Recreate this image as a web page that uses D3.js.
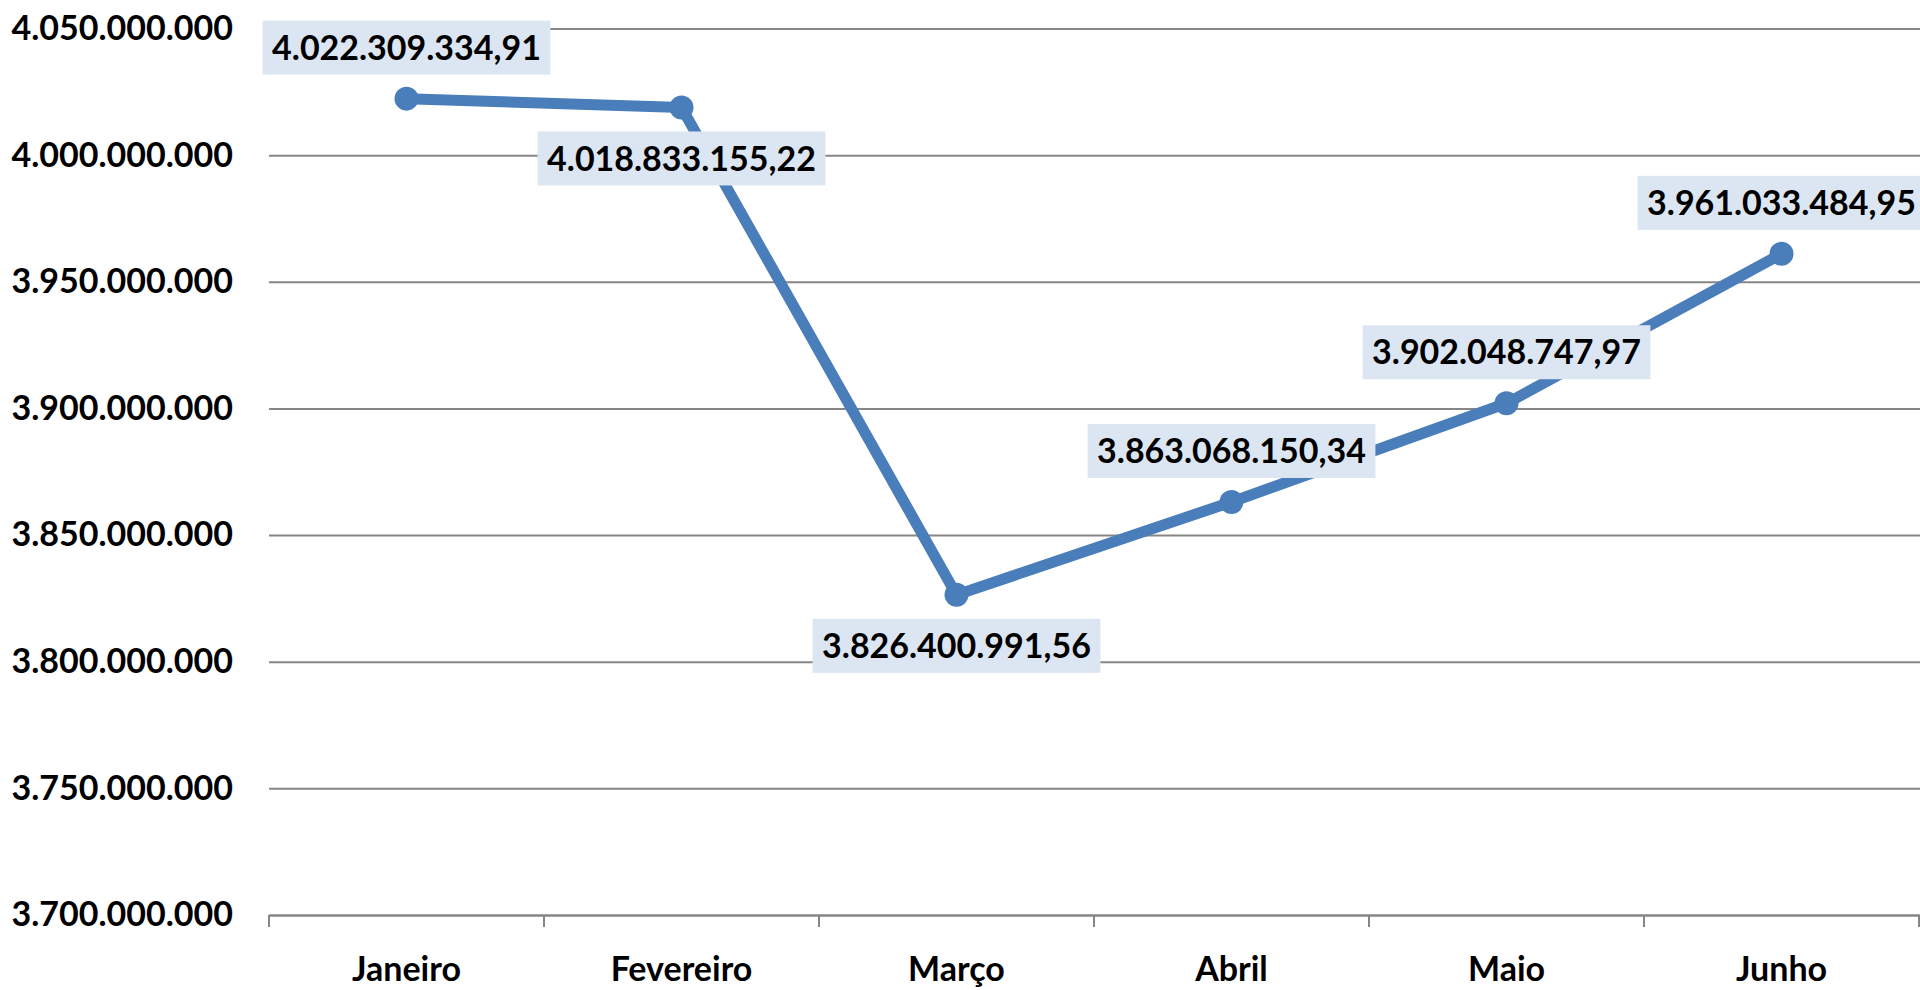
<!DOCTYPE html>
<html>
<head>
<meta charset="utf-8">
<script src="https://cdnjs.cloudflare.com/ajax/libs/d3/7.8.5/d3.min.js"></script>
<style>
  body { margin: 0; background: #fff; }
  svg text { font-family: Lato, "Open Sans", sans-serif; font-weight: bold; }
</style>
</head>
<body>
<div id="wrapper"></div>
<script>
const months = ["Janeiro", "Fevereiro", "Março", "Abril", "Maio", "Junho"];
const values = [4022309334.91, 4018833155.22, 3826400991.56, 3863068150.34, 3902048747.97, 3961033484.95];
const yTicks = [3700000000, 3750000000, 3800000000, 3850000000, 3900000000, 3950000000, 4000000000, 4050000000];
// where each data label sits relative to its point
const labelSide = ["above", "below", "below", "above", "above", "above"];

function buildPlot(){
    const dimension = {
        width: 1920,
        height: 990,
        margin: { left: 269, right: 1, top: 28.5, bottom: 75 }
    };
    const pt = d3.formatLocale({ decimal: ",", thousands: ".", grouping: [3], currency: ["R$", ""] });
    const tickFmt = pt.format(",.0f");
    const labelFmt = pt.format(",.2f");

    const svg = d3.select("#wrapper").append("svg")
        .attr("width", dimension.width)
        .attr("height", dimension.height);

    const x_scale = d3.scaleBand()
        .domain(months)
        .range([dimension.margin.left, dimension.width - dimension.margin.right]);
    const y_scale = d3.scaleLinear()
        .domain([yTicks[0], yTicks[yTicks.length - 1]])
        .range([dimension.height - dimension.margin.bottom, dimension.margin.top]);

    // gridlines + y labels
    const y_axis = d3.axisLeft(y_scale)
        .tickValues(yTicks)
        .tickFormat(tickFmt)
        .tickSize(-(dimension.width - dimension.margin.left))
        .tickPadding(36);
    const gy = svg.append("g")
        .attr("transform", `translate(${dimension.margin.left},0)`)
        .call(y_axis);
    gy.select(".domain").remove();
    gy.selectAll(".tick line").attr("stroke", "#868686").attr("stroke-width", 2);
    gy.selectAll(".tick text")
        .attr("fill", "#000")
        .style("font-size", "34px");

    // x axis
    const x_axis = d3.axisBottom(x_scale).tickSize(0).tickPadding(42);
    const gx = svg.append("g")
        .attr("transform", `translate(0,${y_scale(yTicks[0])})`)
        .call(x_axis);
    gx.select(".domain").attr("stroke", "#868686").attr("stroke-width", 2);
    gx.selectAll(".tick text").attr("fill", "#000").style("font-size", "34px");
    const bounds = months.map(m => x_scale(m)).concat([x_scale(months[months.length - 1]) + x_scale.bandwidth()]);
    gx.selectAll(".sep").data(bounds).join("line")
        .attr("x1", d => d).attr("x2", d => d)
        .attr("y1", 0).attr("y2", 12)
        .attr("stroke", "#868686").attr("stroke-width", 2);

    const cx = (d, i) => x_scale(months[i]) + x_scale.bandwidth() / 2;

    const line = d3.line()
        .x((d, i) => cx(d, i))
        .y(d => y_scale(d));
    svg.append("path")
        .attr("fill", "none")
        .attr("stroke", "#4A7EBB")
        .attr("stroke-width", 11)
        .attr("stroke-linejoin", "round")
        .attr("d", line(values));

    svg.selectAll(".dot").data(values).join("circle")
        .attr("cx", cx)
        .attr("cy", d => y_scale(d))
        .attr("r", 12)
        .attr("fill", "#4A7EBB");

    // data labels
    const lbl = svg.selectAll(".lbl").data(values).join("g")
        .attr("transform", (d, i) => {
            const off = labelSide[i] === "above" ? -51 : 51;
            return `translate(${cx(d, i)},${y_scale(d) + off})`;
        });
    lbl.append("rect").attr("fill", "#DCE6F2");
    lbl.append("text")
        .attr("text-anchor", "middle")
        .attr("dy", "0.36em")
        .style("font-size", "34px")
        .attr("fill", "#000")
        .text(d => labelFmt(d));
    lbl.each(function(){
        const g = d3.select(this);
        const w = g.select("text").node().getComputedTextLength() + 19;
        g.select("rect").attr("x", -w / 2).attr("y", -27).attr("width", w).attr("height", 54);
    });
}
buildPlot();
</script>
</body>
</html>
